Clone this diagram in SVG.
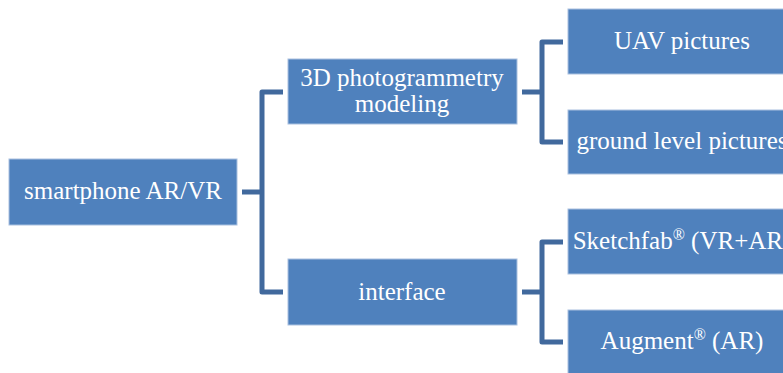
<svg xmlns="http://www.w3.org/2000/svg" width="783" height="373" viewBox="0 0 783 373">
<style>
.box{fill:#4F81BD;stroke:#A9C0DF;stroke-width:1}
.t{font-family:"Liberation Serif","DejaVu Serif",serif;font-size:25px;fill:#FFFFFF;text-anchor:middle}
.c{fill:none;stroke:#41699D;stroke-width:5;stroke-linejoin:round;stroke-linecap:butt}
.sup{font-size:16px}
</style>
<rect width="783" height="373" fill="#FFFFFF"/>
<g id="connectors">
<path class="c" d="M242 192 H262"/>
<path class="c" d="M283 92 H262 V292 H283"/>
<path class="c" d="M522 92 H542"/>
<path class="c" d="M563 42 H542 V142 H563"/>
<path class="c" d="M522 292 H542"/>
<path class="c" d="M563 242 H542 V342 H563"/>
</g>
<g id="root">
<rect class="box" x="9" y="159" width="228" height="66"/>
<text class="t" x="123" y="199">smartphone AR/VR</text>
</g>
<g id="photogrammetry">
<rect class="box" x="288" y="59" width="229" height="65"/>
<text class="t" x="402" y="86">3D photogrammetry</text>
<text class="t" x="402" y="112">modeling</text>
</g>
<g id="interface">
<rect class="box" x="288" y="259" width="229" height="66"/>
<text class="t" x="402" y="300">interface</text>
</g>
<g id="uav">
<rect class="box" x="568" y="9" width="229" height="65"/>
<text class="t" x="682" y="49">UAV pictures</text>
</g>
<g id="ground">
<rect class="box" x="568" y="110" width="229" height="64"/>
<text class="t" x="682" y="149">ground level pictures</text>
</g>
<g id="sketchfab">
<rect class="box" x="568" y="209" width="229" height="65"/>
<text class="t" x="682" y="249">Sketchfab<tspan class="sup" dy="-9">®</tspan><tspan dy="9"> (VR+AR)</tspan></text>
</g>
<g id="augment">
<rect class="box" x="568" y="310" width="229" height="66"/>
<text class="t" x="682" y="349">Augment<tspan class="sup" dy="-9">®</tspan><tspan dy="9"> (AR)</tspan></text>
</g>
</svg>
